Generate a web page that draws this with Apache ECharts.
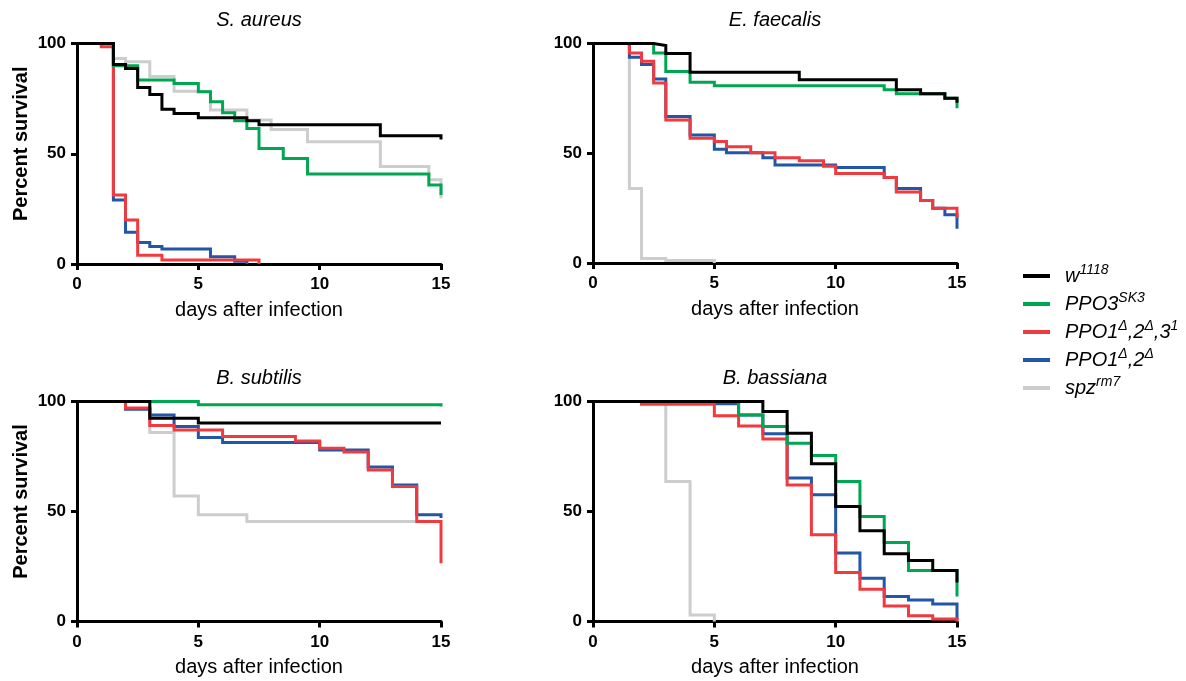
<!DOCTYPE html>
<html>
<head>
<meta charset="utf-8">
<script src="https://cdn.jsdelivr.net/npm/echarts@6/dist/echarts.min.js"></script>
<style>
  html, body { margin: 0; padding: 0; background: #fff; }
  #chart { width: 1186px; height: 681px; }
</style>
</head>
<body>
<div id="chart"></div>
<script>
// Kaplan-Meier survival curves: [day, percent surviving from that day on]

// S. aureus
const aureus_w1118 = [[0,100],[1.5,90.5],[2,88.7],[2.5,80],[3,76.9],[3.5,70.2],[4,68.3],[5,66.3],[7,65],[7.5,63.1],[12.5,58.2],[15,56.5]];
const aureus_ppo3 = [[0,100],[1.5,89.9],[2.5,83.4],[4,81.9],[5,78.1],[5.5,73.6],[6,68.6],[6.5,65],[7,61.5],[7.5,52.4],[8.5,47.9],[9.5,40.8],[14.5,35.8],[15,31.3]];
const aureus_ppo123 = [[0,100],[1,98.5],[1.5,31.3],[2,19.9],[2.5,4],[3.5,1.8],[7.5,0]];
const aureus_ppo12 = [[0,100],[1.5,29],[2,14.4],[2.5,9.8],[3,7.9],[3.5,6.8],[5.5,3.3],[6.5,1.2],[7,0]];
const aureus_spz = [[0,100],[1.5,93.2],[2,91.7],[3,85],[4,78.4],[5.5,69.8],[7,65.3],[8,61],[9.5,55.4],[12.5,44.2],[14.5,38.2],[15,29.8]];

// E. faecalis
const faecalis_w1118 = [[0,100],[2.5,99.1],[3,95.4],[4,86.9],[8.5,83.5],[12.5,78.9],[13.5,77.1],[14.5,75.1],[15,73]];
const faecalis_ppo3 = [[0,100],[2.5,95.7],[3,87.3],[4,82.3],[5,80.8],[12,78.9],[12.5,77.1],[14.5,75.1],[15,70.5]];
const faecalis_ppo123 = [[0,100],[1.5,95.7],[2,91.9],[2.5,82],[3,65.2],[4,56.8],[5,55.3],[5.5,53],[6.5,50.2],[7.5,48],[8.5,46.6],[9.5,44.1],[10,40.8],[12,39],[12.5,32.4],[13.5,28.5],[14,25],[15,20.5]];
const faecalis_ppo12 = [[0,100],[1.5,93.7],[2,90.4],[2.5,83.8],[3,66.7],[4,58.3],[5,51.8],[5.5,50.2],[7,48],[7.5,44.6],[10,43.5],[12,39],[12.5,33.9],[13.5,28.5],[14,25],[14.5,22],[15,15.6]];
const faecalis_spz = [[0,100],[1.5,33.9],[2,2.1],[3,1.1],[5,0]];

// B. subtilis
const subtilis_w1118 = [[0,100],[3,92.4],[5,90.2],[15,90.2]];
const subtilis_ppo3 = [[0,100],[5,98.5],[15,97.7]];
const subtilis_ppo123 = [[0,100],[2,97],[3,89.1],[4,87.1],[6,84.1],[9,82.1],[10,78.8],[11,77],[12,68.9],[13,61.4],[14,45.5],[15,26.5]];
const subtilis_ppo12 = [[0,100],[2,96.5],[3,93.9],[4,88.6],[5,83.6],[6,81.4],[10,78],[12,70.2],[13,62],[14,48.5],[15,47]];
const subtilis_spz = [[0,100],[3,85.9],[4,57.1],[5,48.5],[7,45.5],[15,45.5]];

// B. bassiana
const bassiana_w1118 = [[0,100],[7,95.5],[8,85.6],[9,71.7],[10,52.3],[11,41.2],[12,30.8],[13,27.7],[14,23.2],[15,17.7]];
const bassiana_ppo3 = [[0,100],[6,93.9],[7,88.6],[8,81],[9,75.5],[10,63.6],[11,47.7],[12,35.9],[13,23.2],[15,11.4]];
const bassiana_ppo123 = [[0,100],[2,98.8],[5,93.5],[6,88.9],[7,82.9],[8,62.1],[9,39.4],[10,22.3],[11,14.7],[12,7.1],[13,2.6],[14,1.1],[15,0]];
const bassiana_ppo12 = [[0,100],[5,99],[6,93.9],[7,85.3],[8,65.2],[9,57.6],[10,31.1],[11,19.7],[12,11.4],[13,9.8],[14,8],[15,0.8]];
const bassiana_spz = [[0,100],[3,63.6],[4,3],[5,0]];

const panelTitles = ['S. aureus', 'E. faecalis', 'B. subtilis', 'B. bassiana'];
const xTicks = [0, 5, 10, 15];
const yTicks = [0, 50, 100];

// genotype order for the legend; drawing order is reversed so the control sits on top
const genotypes = ['w1118', 'PPO3SK3', 'PPO1Δ,2Δ,31', 'PPO1Δ,2Δ', 'spzrm7'];
const genotypeLabels = {
  'w1118': '{m|w}{s|1118}',
  'PPO3SK3': '{m|PPO3}{s|SK3}',
  'PPO1Δ,2Δ,31': '{m|PPO1}{s|Δ}{m|,2}{s|Δ}{m|,3}{s|1}',
  'PPO1Δ,2Δ': '{m|PPO1}{s|Δ}{m|,2}{s|Δ}',
  'spzrm7': '{m|spz}{s|rm7}'
};
const genotypeColors = {
  'w1118': '#000000',
  'PPO3SK3': '#00a651',
  'PPO1Δ,2Δ,31': '#ef3b40',
  'PPO1Δ,2Δ': '#2157a6',
  'spzrm7': '#cdcdcd'
};

const panelCurves = [
  { 'w1118': aureus_w1118, 'PPO3SK3': aureus_ppo3, 'PPO1Δ,2Δ,31': aureus_ppo123, 'PPO1Δ,2Δ': aureus_ppo12, 'spzrm7': aureus_spz },
  { 'w1118': faecalis_w1118, 'PPO3SK3': faecalis_ppo3, 'PPO1Δ,2Δ,31': faecalis_ppo123, 'PPO1Δ,2Δ': faecalis_ppo12, 'spzrm7': faecalis_spz },
  { 'w1118': subtilis_w1118, 'PPO3SK3': subtilis_ppo3, 'PPO1Δ,2Δ,31': subtilis_ppo123, 'PPO1Δ,2Δ': subtilis_ppo12, 'spzrm7': subtilis_spz },
  { 'w1118': bassiana_w1118, 'PPO3SK3': bassiana_ppo3, 'PPO1Δ,2Δ,31': bassiana_ppo123, 'PPO1Δ,2Δ': bassiana_ppo12, 'spzrm7': bassiana_spz }
];

const FONT = '"Liberation Sans", Arial, Helvetica, sans-serif';

const gridBoxes = [
  { left: 77, top: 43.5, width: 364, height: 220.5 },
  { left: 593, top: 43.5, width: 364, height: 219.5 },
  { left: 77, top: 401.5, width: 364, height: 220 },
  { left: 593, top: 401.5, width: 364, height: 220 }
];
const titleCenters = [[259, 20], [775, 20], [259, 378], [775, 378]];

const grids = gridBoxes.map(g => Object.assign({ containLabel: false }, g));

const xAxes = gridBoxes.map((g, i) => ({
  type: 'value', gridIndex: i, min: 0, max: 15, interval: 5,
  name: 'days after infection', nameLocation: 'middle', nameGap: 36,
  nameTextStyle: { fontFamily: FONT, fontSize: 20, color: '#000' },
  axisLine: { show: true, onZero: false, lineStyle: { color: '#000', width: 3 } },
  axisTick: { show: true, length: 6, lineStyle: { color: '#000', width: 3 } },
  axisLabel: { fontFamily: FONT, fontSize: 17, fontWeight: 'bold', color: '#000', margin: 12,
               customValues: xTicks },
  splitLine: { show: false }
}));

const yAxes = gridBoxes.map((g, i) => ({
  type: 'value', gridIndex: i, min: 0, max: 100, interval: 50,
  name: (i % 2 === 0) ? 'Percent survival' : '', nameLocation: 'middle', nameGap: 46,
  nameTextStyle: { fontFamily: FONT, fontSize: 20, fontWeight: 'bold', color: '#000',
                   padding: [0, 0, 0, 20] },
  axisLine: { show: true, onZero: false, lineStyle: { color: '#000', width: 3 } },
  axisTick: { show: true, length: 6, lineStyle: { color: '#000', width: 3 } },
  axisLabel: { fontFamily: FONT, fontSize: 17, fontWeight: 'bold', color: '#000', margin: 11,
               customValues: yTicks },
  splitLine: { show: false }
}));

const series = [];
panelCurves.forEach((curves, p) => {
  genotypes.slice().reverse().forEach(name => {
    series.push({
      name: name,
      type: 'line',
      xAxisIndex: p,
      yAxisIndex: p,
      step: 'end',
      showSymbol: false,
      symbol: 'none',
      silent: true,
      color: genotypeColors[name],
      lineStyle: { color: genotypeColors[name], width: 3, cap: 'butt', join: 'miter' },
      data: curves[name]
    });
  });
});

const titles = panelTitles.map((t, i) => ({
  type: 'text',
  x: titleCenters[i][0],
  y: titleCenters[i][1],
  style: {
    text: t, fill: '#000', font: 'italic 20px ' + FONT,
    textAlign: 'center', textVerticalAlign: 'middle'
  }
}));

const chart = echarts.init(document.getElementById('chart'), null, { renderer: 'canvas' });
chart.setOption({
  animation: false,
  backgroundColor: '#ffffff',
  grid: grids,
  xAxis: xAxes,
  yAxis: yAxes,
  legend: {
    data: genotypes,
    orient: 'vertical',
    left: 1023,
    top: 263,
    padding: 0,
    itemWidth: 27,
    itemHeight: 4,
    itemGap: 5,
    icon: 'rect',
    selectedMode: false,
    formatter: name => genotypeLabels[name],
    textStyle: {
      fontFamily: FONT, color: '#000', padding: [0, 0, 0, 10],
      rich: {
        m: { fontFamily: FONT, fontSize: 20, fontStyle: 'italic', color: '#000', lineHeight: 26 },
        s: { fontFamily: FONT, fontSize: 14, fontStyle: 'italic', color: '#000', verticalAlign: 'top', lineHeight: 14 }
      }
    }
  },
  graphic: titles,
  series: series
});
</script>
</body>
</html>
